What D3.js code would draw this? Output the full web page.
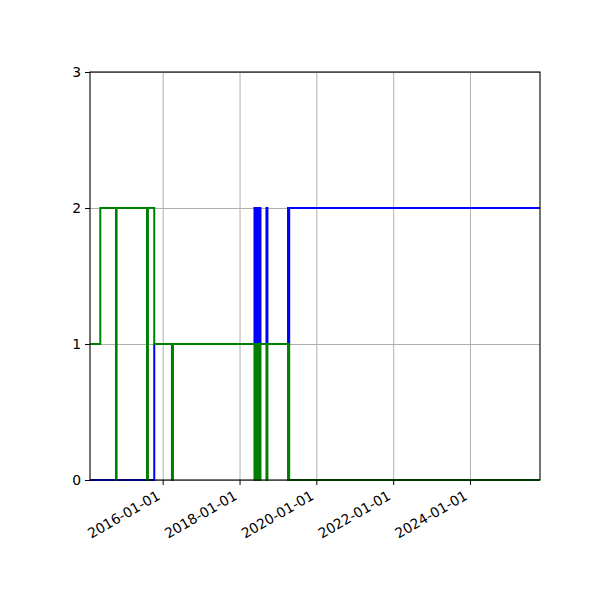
<!DOCTYPE html>
<html>
<head>
<meta charset="utf-8">
<script src="https://cdn.jsdelivr.net/npm/d3@7"></script>
<style>
	body { margin: 0; background: #fff; }
	.axis text { font-family: "DejaVu Sans", sans-serif; font-size: 13.9px; fill: #000; }
	.axis path, .axis line { stroke: #000; }
	.grid line { stroke: #b0b0b0; stroke-width: 1; }
	.grid path { display: none; }
</style>
</head>
<body>
<script>
	// x range of the plot
	var xStart = "2014-02-09";
	var xEnd = "2025-10-28";
	var yTicks = [0, 1, 2, 3];
	var xTickDates = ["2016-01-01", "2018-01-01", "2020-01-01", "2022-01-01", "2024-01-01"];

	// blue series: dates where the value changes, and value after the change
	var blueDates = ["2014-02-09", "2015-10-13",
		"2018-05-23", "2018-06-01", "2018-06-11", "2018-06-20", "2018-06-30", "2018-07-19",
		"2018-09-14", "2018-09-23",
		"2019-04-07", "2019-04-12", "2019-04-18", "2025-10-28"];
	var blueValues = [0, 1, 2, 1, 2, 1, 2, 1, 2, 1, 2, 1, 2, 2];

	// green series
	var greenDates = ["2014-02-09", "2014-05-18", "2014-10-14", "2014-10-20",
		"2015-08-05", "2015-08-14", "2015-10-13", "2016-03-29", "2016-04-08",
		"2018-05-23", "2018-06-01", "2018-06-11", "2018-06-20", "2018-06-30", "2018-07-19",
		"2018-09-14", "2018-09-23",
		"2019-04-07", "2019-04-12", "2019-04-18", "2025-10-28"];
	var greenValues = [1, 2, 0, 2, 0, 2, 1, 0, 1, 0, 1, 0, 1, 0, 1, 0, 1, 0, 1, 0, 0];

	var width = 600, height = 600;
	var margin = {left: 90, right: 60, top: 72, bottom: 120};
	var parse = d3.utcParse("%Y-%m-%d");

	var x = d3.scaleUtc()
		.domain([parse(xStart), parse(xEnd)])
		.range([margin.left, width - margin.right]);
	var y = d3.scaleLinear()
		.domain([0, 3])
		.range([height - margin.bottom, margin.top]);

	var svg = d3.select("body").append("svg")
		.attr("width", width)
		.attr("height", height);

	// grid
	svg.append("g")
		.attr("class", "grid")
		.attr("transform", "translate(0," + (height - margin.bottom) + ")")
		.call(d3.axisBottom(x).tickValues(xTickDates.map(parse))
			.tickSize(-(height - margin.top - margin.bottom)).tickFormat(""));
	svg.append("g")
		.attr("class", "grid")
		.attr("transform", "translate(" + margin.left + ",0)")
		.call(d3.axisLeft(y).tickValues(yTicks)
			.tickSize(-(width - margin.left - margin.right)).tickFormat(""));

	svg.append("clipPath").attr("id", "clip")
		.append("rect")
		.attr("x", margin.left).attr("y", margin.top - 2)
		.attr("width", width - margin.left - margin.right)
		.attr("height", height - margin.top - margin.bottom + 4);

	function series(dates, values) {
		return dates.map(function(d, i) { return {date: parse(d), value: values[i]}; });
	}

	var line = d3.line()
		.x(function(d) { return x(d.date); })
		.y(function(d) { return y(d.value); })
		.curve(d3.curveStepAfter);

	var plot = svg.append("g").attr("clip-path", "url(#clip)");
	plot.append("path")
		.datum(series(blueDates, blueValues))
		.attr("d", line)
		.attr("fill", "none")
		.attr("stroke", "#0000ff")
		.attr("stroke-width", 2);
	plot.append("path")
		.datum(series(greenDates, greenValues))
		.attr("d", line)
		.attr("fill", "none")
		.attr("stroke", "#008000")
		.attr("stroke-width", 2);

	// frame
	svg.append("rect")
		.attr("x", margin.left).attr("y", margin.top)
		.attr("width", width - margin.left - margin.right)
		.attr("height", height - margin.top - margin.bottom)
		.attr("fill", "none")
		.attr("stroke", "#000")
		.attr("stroke-width", 1.1);

	// axes
	var xAxis = svg.append("g")
		.attr("class", "axis")
		.attr("transform", "translate(0," + (height - margin.bottom) + ")")
		.call(d3.axisBottom(x).tickValues(xTickDates.map(parse))
			.tickSize(5).tickFormat(d3.utcFormat("%Y-%m-%d")));
	xAxis.select(".domain").remove();
	// rotated labels, right end just below the tick
	xAxis.selectAll("text")
		.attr("text-anchor", "end")
		.attr("dy", 0)
		.attr("y", 0).attr("x", 0)
		.attr("transform", "translate(-2,18.5) rotate(-30)");

	var yAxis = svg.append("g")
		.attr("class", "axis")
		.attr("transform", "translate(" + margin.left + ",0)")
		.call(d3.axisLeft(y).tickValues(yTicks).tickSize(5).tickPadding(4)
			.tickFormat(d3.format("d")));
	yAxis.select(".domain").remove();
</script>
</body>
</html>
